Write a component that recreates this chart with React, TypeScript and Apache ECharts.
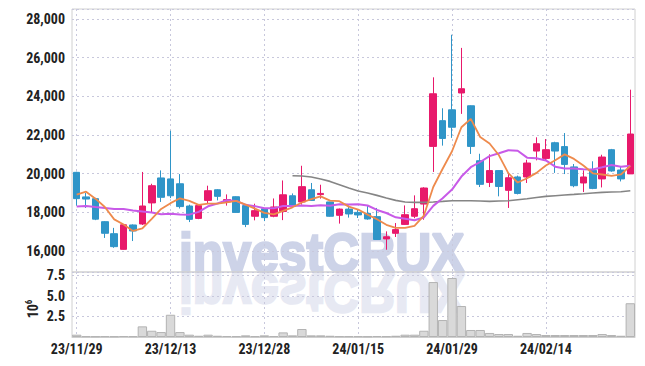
import React, { useEffect, useRef } from 'react';
import * as echarts from 'echarts';

const dates = [
  '23/11/29', '23/11/30', '23/12/01', '23/12/04', '23/12/05', '23/12/06', '23/12/07', '23/12/08', '23/12/11', '23/12/12',
  '23/12/13', '23/12/14', '23/12/15', '23/12/18', '23/12/19', '23/12/20', '23/12/21', '23/12/22', '23/12/26', '23/12/27',
  '23/12/28', '24/01/02', '24/01/03', '24/01/04', '24/01/05', '24/01/08', '24/01/09', '24/01/10', '24/01/11', '24/01/12',
  '24/01/15', '24/01/16', '24/01/17', '24/01/18', '24/01/19', '24/01/22', '24/01/23', '24/01/24', '24/01/25', '24/01/26',
  '24/01/29', '24/01/30', '24/01/31', '24/02/01', '24/02/02', '24/02/05', '24/02/06', '24/02/07', '24/02/08', '24/02/13',
  '24/02/14', '24/02/15', '24/02/16', '24/02/19', '24/02/20', '24/02/21', '24/02/22', '24/02/23', '24/02/26', '24/02/27',
];

const opens = [
  20070, 18800, 18710, 17520, 16900, 16090, 17350, 17400, 18490, 19780,
  19730, 19480, 18330, 17690, 18620, 19170, 18540, 18810, 18350, 17800,
  18190, 17800, 18050, 18860, 18540, 19170, 18920, 18540, 17850, 18170,
  18000, 17950, 17780, 16630, 16920, 17380, 17800, 18430, 21410, 22740,
  23300, 24170, 23510, 20670, 19550, 20160, 19140, 19830, 19830, 21170,
  20790, 21600, 21400, 20350, 19520, 20170, 19730, 21240, 20190, 19990,
];
const closes = [
  18710, 18690, 17650, 16920, 16230, 17360, 17040, 18330, 19380, 18780,
  18860, 18300, 17640, 18350, 19120, 18830, 18660, 18000, 17380, 18090,
  17730, 18280, 18910, 18310, 19330, 18620, 18980, 17800, 18170, 17920,
  17870, 17660, 16600, 16740, 17110, 17880, 18190, 19260, 24130, 21820,
  22400, 24390, 21410, 19450, 20160, 19340, 19790, 18980, 20550, 21550,
  21240, 21170, 20480, 19380, 19830, 19240, 20860, 20140, 19730, 22050,
];
const highs = [
  20100, 19000, 18750, 17550, 17200, 17380, 17380, 20090, 19480, 20170,
  22220, 19980, 18400, 18380, 19380, 19200, 18930, 18830, 18380, 18450,
  18200, 18720, 19650, 18980, 20410, 19520, 19430, 18550, 18200, 18350,
  18170, 18360, 18230, 17020, 17450, 18360, 18880, 19300, 24980, 23380,
  27180, 26500, 23530, 21030, 21000, 20170, 20000, 19900, 20720, 21880,
  21790, 21650, 22100, 20500, 20170, 20640, 20980, 21280, 20350, 24340,
];
const lows = [
  18350, 18230, 17600, 16680, 16170, 16080, 16520, 17350, 18000, 18540,
  18740, 18200, 17500, 17650, 18450, 18620, 18350, 17980, 17240, 17590,
  17550, 17750, 17600, 18280, 18400, 18600, 18710, 17780, 17420, 17730,
  17710, 17620, 16580, 16070, 16730, 17360, 17700, 17620, 20090, 21450,
  21850, 23090, 21020, 19310, 19310, 18830, 18230, 18930, 19520, 20690,
  20700, 20040, 19980, 19300, 19050, 19200, 19290, 20100, 19600, 19990,
];

const ma5 = [
  18915, 19070, 18708, 18277, 17640, 17370, 17040, 17176, 17668, 18178,
  18478, 18730, 18592, 18386, 18454, 18448, 18520, 18592, 18398, 18192,
  17972, 17896, 18078, 18264, 18512, 18690, 18830, 18608, 18580, 18298,
  18148, 17884, 17644, 17358, 17196, 17198, 17304, 17836, 19314, 20256,
  21160, 22400, 22830, 21894, 21562, 20950, 20030, 19544, 19764, 20042,
  20422, 20698, 20998, 20764, 20420, 20020, 19958, 19890, 19960, 20404,
];
const ma10 = [
  18310, 18330, 18277, 18227, 18174, 18174, 18103, 18052, 18000, 17909,
  17924, 17885, 17884, 18027, 18316, 18463, 18625, 18592, 18392, 18323,
  18210, 18208, 18335, 18331, 18352, 18331, 18363, 18343, 18422, 18405,
  18419, 18357, 18126, 17969, 17747, 17673, 17594, 17740, 18336, 18726,
  19179, 19852, 20333, 20604, 20909, 21055, 21215, 21187, 20829, 20802,
  20686, 20364, 20271, 20264, 20231, 20221, 20328, 20444, 20362, 20412,
];
const maLong = [
  null, null, null, null, null, null, null, null, null, null,
  null, null, null, null, null, null, null, null, null, null,
  null, null, null, 19897, 19881, 19829, 19726, 19602, 19432, 19261,
  19106, 19003, 18879, 18744, 18620, 18537, 18517, 18517, 18537, 18568,
  18605, 18605, 18605, 18590, 18568, 18590, 18605, 18656, 18708, 18770,
  18827, 18863, 18899, 18930, 18966, 19003, 19034, 19054, 19070, 19121,
];
// volume in millions
const volumes = [
  0.28, 0.1, 0.08, 0.1, 0.08, 0.12, 0.1, 1.29, 0.76, 0.6,
  2.7, 0.6, 0.28, 0.15, 0.28, 0.15, 0.12, 0.1, 0.2, 0.1,
  0.2, 0.12, 0.56, 0.2, 0.97, 0.2, 0.2, 0.15, 0.1, 0.1,
  0.1, 0.08, 0.12, 0.1, 0.15, 0.28, 0.28, 0.76, 6.67, 2.06,
  7.16, 3.76, 0.85, 0.85, 0.49, 0.36, 0.36, 0.15, 0.49, 0.36,
  0.24, 0.24, 0.24, 0.24, 0.24, 0.24, 0.36, 0.24, 0.15, 4.1,
];

const FONT = "'Roboto Condensed', 'Liberation Sans Narrow', 'Liberation Sans', Arial, sans-serif";

export default function App() {
  const ref = useRef<HTMLDivElement>(null);
  useEffect(() => {
    document.body.style.margin = '0';
    const chart = echarts.init(ref.current!, null, { renderer: 'svg' });
    const candleData = dates.map((_, i) => [opens[i], closes[i], lows[i], highs[i]]);
    const dotted = { color: '#c8c8dc', type: [2, 3] as any, width: 1 };
    const labelStyle = { fontFamily: FONT, fontSize: 14, color: '#222', fontWeight: 'bold' as any };
    chart.setOption({
      animation: false,
      grid: [
        { left: 72, top: 9, width: 563, height: 263, show: true, borderColor: '#d0d0d0', borderWidth: 1 },
        { left: 72, top: 272, width: 563, height: 65, show: true, borderColor: '#d0d0d0', borderWidth: 1 },
      ],
      xAxis: [
        {
          type: 'category', gridIndex: 0, data: dates, boundaryGap: true,
          axisLine: { show: false }, axisTick: { show: false }, axisLabel: { show: false },
          splitLine: { show: true, interval: 9, alignWithLabel: true, lineStyle: dotted },
        },
        {
          type: 'category', gridIndex: 1, data: dates, boundaryGap: true,
          axisLine: { show: true, lineStyle: { color: '#cfcfcf' } }, axisTick: { show: false },
          axisLabel: { ...labelStyle, interval: 9, margin: 5 },
          splitLine: { show: true, interval: 9, alignWithLabel: true, lineStyle: dotted },
        },
      ],
      yAxis: [
        {
          type: 'value', gridIndex: 0, min: 14920, max: 28510, splitNumber: 7, scale: true,
          axisLine: { show: false }, axisTick: { show: false },
          axisLabel: {
            ...labelStyle, margin: 7, showMinLabel: false, showMaxLabel: false,
            formatter: (v: number) => v.toLocaleString('en-US'),
          },
          splitLine: { show: true, lineStyle: dotted },
        },
        {
          type: 'value', gridIndex: 1, min: 0, max: 7.89, interval: 2.5,
          axisLine: { show: false }, axisTick: { show: false },
          axisLabel: {
            ...labelStyle, margin: 7, showMinLabel: false, showMaxLabel: false,
            formatter: (v: number) => v.toFixed(1),
          },
          splitLine: { show: true, lineStyle: dotted },
        },
      ],
      graphic: [
        {
          type: 'text', z: -1, x: 179, y: 253, scaleX: 0.86, scaleY: 0.95,
          style: {
            text: 'investCRUX', fontFamily: "'Liberation Sans', Arial, sans-serif", fontWeight: 'bold',
            fontSize: 58, fill: '#cdd3e8', stroke: '#cdd3e8', lineWidth: 2.5,
            verticalAlign: 'middle', align: 'left',
          },
        },
        {
          type: 'text', z: -1, x: 179, y: 293, scaleX: 0.86, scaleY: -0.95,
          style: {
            text: 'investCRUX', fontFamily: "'Liberation Sans', Arial, sans-serif", fontWeight: 'bold',
            fontSize: 58, fill: '#e7e9f3', stroke: '#e7e9f3', lineWidth: 2.5,
            verticalAlign: 'middle', align: 'left',
          },
        },
        {
          type: 'text', x: 33, y: 309, rotation: Math.PI / 2,
          style: {
            text: '{a|10}{b|6}', align: 'center', verticalAlign: 'middle',
            rich: {
              a: { fontFamily: FONT, fontSize: 14, fill: '#222', fontWeight: 'bold' },
              b: { fontFamily: FONT, fontSize: 9, fill: '#222', fontWeight: 'bold', padding: [0, 0, 8, 0] },
            },
          },
        },
      ],
      series: [
        {
          type: 'candlestick', xAxisIndex: 0, yAxisIndex: 0, data: candleData, barWidth: '75%',
          itemStyle: { color: '#e8196b', color0: '#2f95c8', borderColor: '#e8196b', borderColor0: '#2f95c8', borderWidth: 1 },
        },
        { type: 'line', xAxisIndex: 0, yAxisIndex: 0, data: maLong, symbol: 'none', lineStyle: { color: '#858585', width: 1.6 } },
        { type: 'line', xAxisIndex: 0, yAxisIndex: 0, data: ma10, symbol: 'none', lineStyle: { color: '#c85ae8', width: 2 } },
        { type: 'line', xAxisIndex: 0, yAxisIndex: 0, data: ma5, symbol: 'none', lineStyle: { color: '#ee8a4c', width: 1.8 } },
        {
          type: 'bar', xAxisIndex: 1, yAxisIndex: 1, data: volumes, barCategoryGap: '0%',
          itemStyle: { color: '#d9d9d9', borderColor: '#b3b3b3', borderWidth: 1 },
        },
      ],
    });
    return () => chart.dispose();
  }, []);
  return <div ref={ref} style={{ width: 645, height: 366 }} />;
}
